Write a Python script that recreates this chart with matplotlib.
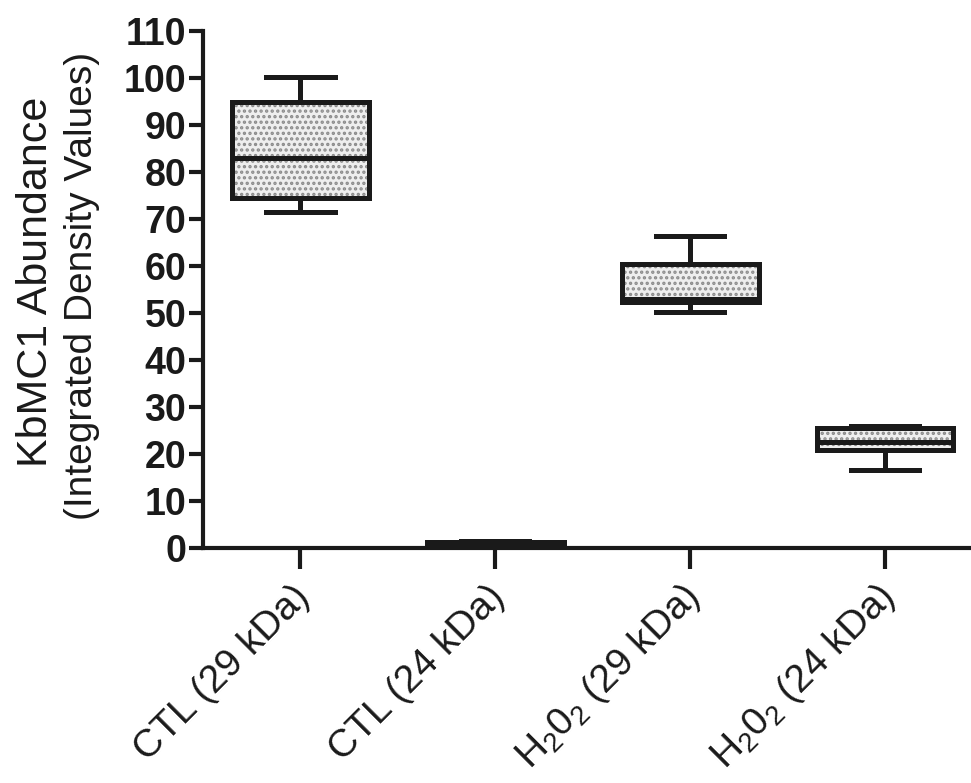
import matplotlib
matplotlib.use("Agg")
import matplotlib.pyplot as plt
from matplotlib.transforms import ScaledTranslation

plt.rcParams['font.family'] = ['Liberation Sans', 'DejaVu Sans']
plt.rcParams['mathtext.fontset'] = 'custom'
plt.rcParams['mathtext.rm'] = 'Liberation Sans'
plt.rcParams['mathtext.it'] = 'Liberation Sans'
plt.rcParams['hatch.linewidth'] = 1.6

categories = ['CTL (29 kDa)', 'CTL (24 kDa)', r'H$_2$0$_2$ (29 kDa)', r'H$_2$0$_2$ (24 kDa)']
whislo = [71.5, 0.0, 50.2, 16.6]
q1 = [74.5, 0.0, 52.3, 20.8]
med = [83.0, 0.6, 53.0, 22.5]
q3 = [95.0, 1.3, 60.5, 25.5]
whishi = [100.2, 1.6, 66.5, 26.0]
yticks = list(range(0, 111, 10))

stats = [dict(whislo=a, q1=b, med=c, q3=d, whishi=e, label=l)
         for a, b, c, d, e, l in zip(whislo, q1, med, q3, whishi, categories)]

fig = plt.figure(figsize=(9.71, 7.83), dpi=100)
ax = fig.add_axes([0.209, 0.30, 0.791, 0.66])

pos = [1, 2, 3, 4]
lw = 3.6
# hatched fill layer
ax.bxp(stats, positions=pos, widths=0.7, patch_artist=True, showfliers=False,
       boxprops=dict(facecolor='#eeeeee', edgecolor='#8a8a8a', linewidth=0, hatch='...'),
       whiskerprops=dict(linewidth=0), capprops=dict(linewidth=0),
       medianprops=dict(linewidth=0), zorder=2)
# outline layer
ax.bxp(stats, positions=pos, widths=0.7, patch_artist=True, showfliers=False,
       capwidths=0.35,
       boxprops=dict(facecolor='none', edgecolor='#1a1a1a', linewidth=lw),
       whiskerprops=dict(color='#1a1a1a', linewidth=lw, solid_capstyle='butt'),
       capprops=dict(color='#1a1a1a', linewidth=lw),
       medianprops=dict(color='#1a1a1a', linewidth=lw), zorder=3)

ax.set_xlim(0.5, 4.44)
ax.set_ylim(0, 110)

for s in ['top', 'right']:
    ax.spines[s].set_visible(False)
for s in ['left', 'bottom']:
    ax.spines[s].set_linewidth(3.0)
    ax.spines[s].set_color('#1a1a1a')
ax.spines['bottom'].set_zorder(1)
ax.tick_params(axis='y', direction='out', length=10, width=3, pad=2, color='#1a1a1a')
ax.tick_params(axis='x', direction='out', length=15, width=3, pad=4, color='#1a1a1a')

ax.set_yticks(yticks)
ax.set_yticklabels([str(v) for v in yticks], fontsize=27, fontweight='bold', color='#1a1a1a')
ax.set_xticks(pos)
ax.set_xticklabels(categories, fontsize=28, rotation=45, ha='right', va='center',
                   rotation_mode='anchor', color='#1a1a1a')
for lab in ax.get_xticklabels():
    lab.set_transform(lab.get_transform() + ScaledTranslation(0.04, -0.17, fig.dpi_scale_trans))

fig.text(0.037, 0.640, 'KbMC1 Abundance', rotation=90, ha='center', va='center',
         fontsize=31, color='#1a1a1a')
fig.text(0.084, 0.635, '(Integrated Density Values)', rotation=90, ha='center', va='center',
         fontsize=28, color='#1a1a1a')

fig.savefig('out.png', dpi=100, facecolor='white')
